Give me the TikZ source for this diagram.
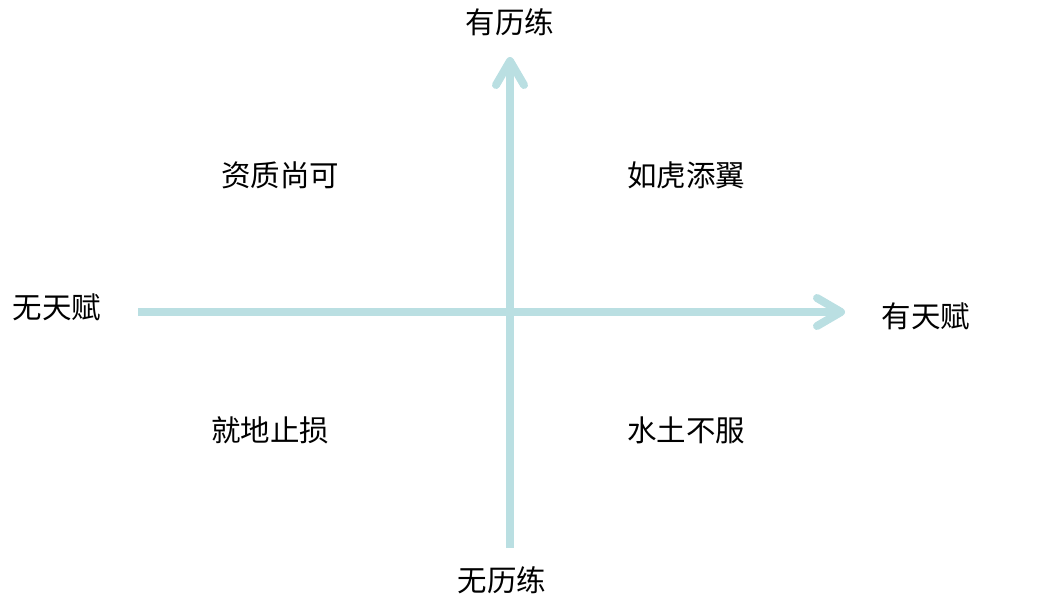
\documentclass[tikz,border=0pt]{standalone}
\usepackage{fontspec}
\setmainfont{Noto Sans CJK SC}
\usetikzlibrary{arrows.meta}
\definecolor{axis}{HTML}{BADFE2}
\tikzset{
  lbl/.style={font=\fontsize{29.5}{32}\selectfont, text=black, inner sep=0pt, anchor=center},
  axisline/.style={draw=axis, line width=8pt, -{Straight Barb[length=24pt,width=28pt,round]}}
}
\begin{document}
\begin{tikzpicture}[x=1pt,y=-1pt]
\useasboundingbox (0,0) rectangle (1058,606);
\coordinate (L) at (138,312);
\coordinate (R) at (845,312);
\coordinate (B) at (510,548);
\coordinate (T) at (510,57);
\draw[axisline] (L) -- (R);
\draw[axisline] (B) -- (T);
\node[lbl] (top) at (510,22) {有历练};
\node[lbl] (bot) at (502,580) {无历练};
\node[lbl] (left) at (57,307) {无天赋};
\node[lbl] (right) at (926,316) {有天赋};
\node[lbl] (q2) at (280,175) {资质尚可};
\node[lbl] (q1) at (686,175) {如虎添翼};
\node[lbl] (q3) at (270,430) {就地止损};
\node[lbl] (q4) at (686,430) {水土不服};
\end{tikzpicture}
\end{document}
